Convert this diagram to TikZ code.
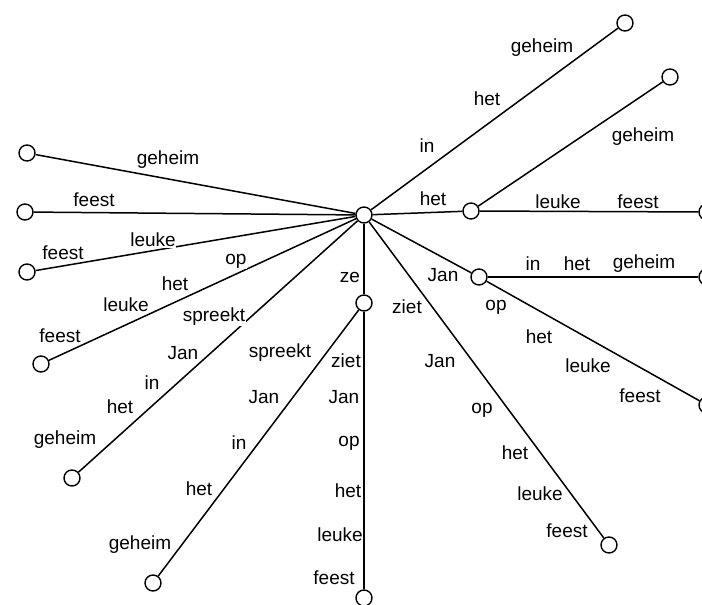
\documentclass[tikz,border=0pt]{standalone}
\usepackage{fontspec}
\setmainfont{Liberation Sans}
\begin{document}
\begin{tikzpicture}[x=1pt,y=-1pt,
  vtx/.style={circle,draw,fill=white,line width=1.4pt,minimum size=16pt,inner sep=0pt},
  word/.style={font=\fontsize{19}{19}\selectfont,inner sep=0.6pt,fill=white},
  link/.style={line width=1.5pt}]
\useasboundingbox (0,0) rectangle (702,605);

% vertices of the tree
\node[vtx] (root) at (364,215) {};
\node[vtx] (a) at (625,23) {};
\node[vtx] (b) at (670,77) {};
\node[vtx] (c) at (471,211) {};
\node[vtx] (d) at (707,212) {};
\node[vtx] (e) at (479,277) {};
\node[vtx] (f) at (707,277) {};
\node[vtx] (g) at (707,405) {};
\node[vtx] (h) at (364,303) {};
\node[vtx] (i) at (364,598) {};
\node[vtx] (j) at (609,545) {};
\node[vtx] (k) at (153,583) {};
\node[vtx] (l) at (72,478) {};
\node[vtx] (m) at (41,364) {};
\node[vtx] (n) at (27,272) {};
\node[vtx] (o) at (25,212) {};
\node[vtx] (p) at (27,153) {};

% edges
\foreach \t in {a,c,e,h,j,l,m,n,o,p} \draw[link] (root) -- (\t);
\draw[link] (c) -- (b);
\draw[link] (c) -- (d);
\draw[link] (e) -- (f);
\draw[link] (e) -- (g);
\draw[link] (h) -- (i);
\draw[link] (h) -- (k);

% word labels
\node[word] (w1) at (168,160) {geheim};
\node[word] (w2) at (94,200) {feest};
\node[word] (w3) at (153,240) {leuke};
\node[word] (w4) at (63,253) {feest};
\node[word] (w5) at (236,261) {op};
\node[word] (w6) at (175,284) {het};
\node[word] (w7) at (126,305) {leuke};
\node[word] (w8) at (60,336) {feest};
\node[word] (w9) at (214,317) {spreekt};
\node[word] (w10) at (183,353) {Jan};
\node[word] (w11) at (152,383) {in};
\node[word] (w12) at (120,407) {het};
\node[word] (w13) at (65,440) {geheim};
\node[word] (w14) at (350,277) {ze};
\node[word] (w15) at (280,353) {spreekt};
\node[word] (w16) at (264,397) {Jan};
\node[word] (w17) at (239,443) {in};
\node[word] (w18) at (199,489) {het};
\node[word] (w19) at (140,545) {geheim};
\node[word] (w20) at (346,361) {ziet};
\node[word] (w21) at (344,397) {Jan};
\node[word] (w22) at (349,443) {op};
\node[word] (w23) at (348,491) {het};
\node[word] (w24) at (340,535) {leuke};
\node[word] (w25) at (334,578) {feest};
\node[word] (w26) at (407,307) {ziet};
\node[word] (w27) at (440,361) {Jan};
\node[word] (w28) at (482,410) {op};
\node[word] (w29) at (515,453) {het};
\node[word] (w30) at (540,494) {leuke};
\node[word] (w31) at (567,531) {feest};
\node[word] (w32) at (443,275) {Jan};
\node[word] (w33) at (533,264) {in};
\node[word] (w34) at (577,264) {het};
\node[word] (w35) at (644,264) {geheim};
\node[word] (w36) at (496,307) {op};
\node[word] (w37) at (539,337) {het};
\node[word] (w38) at (588,366) {leuke};
\node[word] (w39) at (640,396) {feest};
\node[word] (w40) at (433,199) {het};
\node[word] (w41) at (558,202) {leuke};
\node[word] (w42) at (638,202) {feest};
\node[word] (w43) at (643,137) {geheim};
\node[word] (w44) at (427,146) {in};
\node[word] (w45) at (487,99) {het};
\node[word] (w46) at (542,48) {geheim};
\end{tikzpicture}
\end{document}
